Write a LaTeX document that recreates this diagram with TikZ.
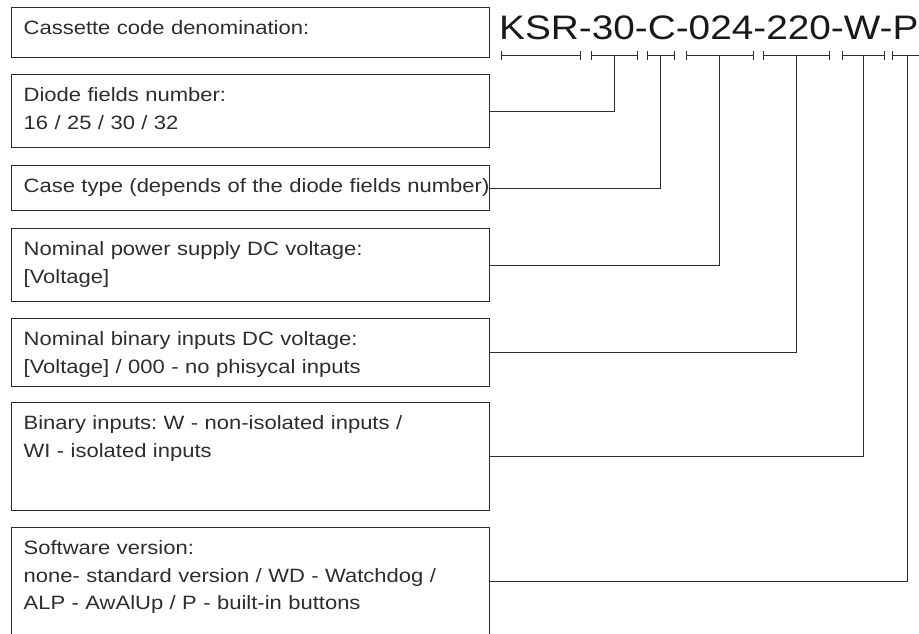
\documentclass[tikz,border=0pt]{standalone}
\usepackage{fontspec}
\setmainfont[FakeStretch=1.14]{Liberation Sans}
\definecolor{inkgray}{RGB}{45,45,45}
\usetikzlibrary{arrows.meta}
\frenchspacing

\begin{document}
\begin{tikzpicture}[
      x=1pt, y=-1pt,
      wire/.style={line width=1.2pt, inkgray},
      brk/.style={line width=1.1pt, inkgray, {Bar[width=9pt]}-{Bar[width=9pt]}},
      field/.style={draw=inkgray, line width=1.3pt, anchor=north west, align=left,
                    text width=454pt, inner xsep=12pt, inner ysep=0pt, text height=27pt,
                    font=\fontsize{19.3}{27.5}\selectfont, text=inkgray},
      code/.style={anchor=base west, inner sep=0pt, font=\fontsize{34}{36}\selectfont, text=black!90}
    ]
    \useasboundingbox (0,0) rectangle (919,633);
    \clip (0,0) rectangle (919,633);
    \node[field, text depth=23pt] (b1) at (11,7) {Cassette code denomination:};
    \node[field, text depth=46pt] (b2) at (11,74) {Diode fields number:\\16 / 25 / 30 / 32};
    \node[field, text depth=18pt] (b3) at (11,165) {\mbox{Case type (depends of the diode fields number)}};
    \node[field, text depth=46pt] (b4) at (11,228) {Nominal power supply DC voltage:\\{}[Voltage]};
    \node[field, text depth=41pt] (b5) at (11,318) {Nominal binary inputs DC voltage:\\{}[Voltage] / 000 - no phisycal inputs};
    \node[field, text depth=81pt] (b6) at (11,402) {Binary inputs: W - non-isolated inputs /\\WI - isolated inputs};
    \node[field, text depth=81pt] (b7) at (11,527) {Software version:\\none- standard version / WD - Watchdog /\\ALP - AwAlUp / P - built-in buttons};
    \node[code] (code) at (499,39) {KSR-30-C-024-220-W-P};
    \foreach \a/\b/\n in {500.7/580.7/ksr, 591/638.3/fields, 646.7/675/case, 685.7/754/supply,
                          762.7/830/binary, 842.3/885/inputs, 892.3/923/soft}
      \draw[brk] (\a,55.5) -- coordinate (\n) (\b,55.5);
    \draw[wire] (b2.east) -| (fields);
    \draw[wire] (b3.east) -| (case);
    \draw[wire] (b4.east) -| (supply);
    \draw[wire] (b5.east) -| (binary);
    \draw[wire] (b6.east) -| (inputs);
    \draw[wire] (b7.east) -| (soft);
  \end{tikzpicture}
\end{document}
